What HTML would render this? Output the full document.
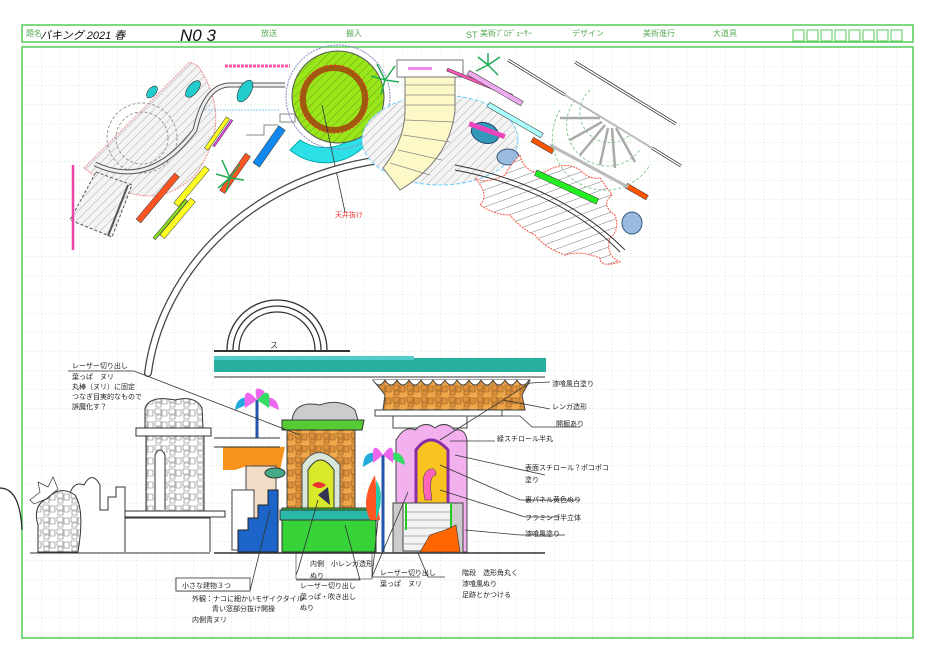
<!DOCTYPE html>
<html><head><meta charset="utf-8"><style>
html,body{margin:0;padding:0;background:#fff;}
svg{display:block;}
text{font-family:"Liberation Sans","Noto Sans CJK JP",sans-serif;}
</style></head><body>
<svg width="930" height="658" viewBox="0 0 930 658" xmlns="http://www.w3.org/2000/svg">
<defs>
<pattern id="grid" x="22" y="47" width="19" height="19" patternUnits="userSpaceOnUse">
<path d="M0 0V19M0 0H19" stroke="#cfeccc" stroke-width="1" stroke-dasharray="2 2" fill="none"/>
</pattern>
<pattern id="hatch" width="6" height="6" patternUnits="userSpaceOnUse" patternTransform="rotate(45)">
<rect width="6" height="6" fill="#f4f4f4"/><line x1="0" y1="0" x2="0" y2="6" stroke="#aaa" stroke-width="1"/>
</pattern>
<pattern id="hatchG" width="6" height="6" patternUnits="userSpaceOnUse" patternTransform="rotate(45)">
<rect width="6" height="6" fill="#99e61a"/><line x1="0" y1="0" x2="0" y2="6" stroke="#6aa010" stroke-width="1"/>
</pattern>
<pattern id="hatchW" width="8" height="8" patternUnits="userSpaceOnUse" patternTransform="rotate(-20)">
<rect width="8" height="8" fill="#fff"/><line x1="0" y1="0" x2="8" y2="0" stroke="#777" stroke-width="1"/>
</pattern>
<pattern id="stone" width="14" height="12" patternUnits="userSpaceOnUse">
<rect width="14" height="12" fill="#f0a84a"/><path d="M1 1h6v5h-6zM8 2h5v6h-5zM2 7h5v4h-5z" fill="#e0923a" stroke="#8a5520" stroke-width="0.6"/>
</pattern>
<pattern id="stoneG" width="14" height="12" patternUnits="userSpaceOnUse">
<rect width="14" height="12" fill="#fff"/><path d="M1 1h6v5h-6zM8 2h5v6h-5zM2 7h5v4h-5z" fill="none" stroke="#777" stroke-width="0.6"/>
</pattern>
</defs>

<!-- header -->
<rect x="22" y="25" width="891" height="17" fill="#fff" stroke="#5c5" stroke-width="1.5"/>
<g font-size="8" fill="#5a5">
<text x="26" y="36">題名</text>
<text x="261" y="36">放送</text>
<text x="346" y="36">搬入</text>
<text x="466" y="38" font-size="9">ST</text>
<text x="480" y="36">美術ﾌﾟﾛﾃﾞｭｰｻｰ</text>
<text x="572" y="36">デザイン</text>
<text x="643" y="36">美術進行</text>
<text x="713" y="36">大道具</text>
</g>
<g fill="none" stroke="#5c5" stroke-width="1">
<rect x="793" y="30" width="11" height="11"/><rect x="807" y="30" width="11" height="11"/><rect x="821" y="30" width="11" height="11"/><rect x="835" y="30" width="11" height="11"/><rect x="849" y="30" width="11" height="11"/><rect x="863" y="30" width="11" height="11"/><rect x="877" y="30" width="11" height="11"/><rect x="891" y="30" width="11" height="11"/>
</g>
<text x="40" y="39" font-size="11" fill="#111" font-style="italic">バキング 2021 春</text>
<text x="180" y="41" font-size="17" fill="#111" font-style="italic">N0 3</text>

<!-- main frame -->
<rect x="22" y="47" width="891" height="591" fill="url(#grid)" stroke="#5c5" stroke-width="1.5"/>
<path d="M0 488 Q20 488 22 530" fill="none" stroke="#222" stroke-width="1.2"/>

<!-- ===== TOP PLAN ===== -->
<path d="M84 168 L190 62 L198 66 Q235 120 195 175 Q150 220 84 168Z" fill="url(#hatch)" stroke="#e88" stroke-width="1" stroke-dasharray="2 1"/>
<path d="M96 172 L132 185 L112 237 L70 220Z" fill="url(#hatch)" stroke="#555" stroke-width="1" stroke-dasharray="3 2"/>
<line x1="128" y1="185" x2="108" y2="236" stroke="#555" stroke-width="2"/>
<circle cx="142" cy="138" r="35" fill="none" stroke="#999" stroke-dasharray="3 2"/>
<circle cx="142" cy="138" r="26" fill="none" stroke="#999" stroke-dasharray="3 2"/>
<path d="M95 164 Q150 190 195 130 Q205 85 230 85 L285 85" fill="none" stroke="#555" stroke-width="5"/>
<path d="M95 164 Q150 190 195 130 Q205 85 230 85 L285 85" fill="none" stroke="#eee" stroke-width="3"/>
<line x1="205" y1="110" x2="280" y2="110" stroke="#8cf" stroke-dasharray="2 1"/>
<line x1="73" y1="165" x2="73" y2="250" stroke="#e4a" stroke-width="2.5"/>
<g fill="#2cc" stroke="#333" stroke-width="0.6">
<ellipse cx="152" cy="92" rx="7" ry="4" transform="rotate(-50 152 92)"/>
<ellipse cx="193" cy="89" rx="10" ry="5" transform="rotate(-50 193 89)"/>
<ellipse cx="245" cy="91" rx="12" ry="6" transform="rotate(-60 245 91)"/>
</g>
<line x1="225" y1="66" x2="290" y2="66" stroke="#f5a" stroke-width="3" stroke-dasharray="3 1"/>
<g stroke="#333" stroke-width="0.5">
<rect x="226" y="118" width="4" height="38" fill="#ff2" transform="rotate(35 228 118)"/>
<rect x="231" y="120" width="2" height="32" fill="#e4e" transform="rotate(35 232 120)"/>
<rect x="174" y="175" width="6" height="60" fill="#f52" transform="rotate(40 177 175)"/>
<rect x="185" y="200" width="3" height="50" fill="#8d2" transform="rotate(40 186 200)"/>
<rect x="204" y="168" width="6" height="48" fill="#ff2" transform="rotate(40 207 168)"/>
<rect x="190" y="200" width="6" height="48" fill="#ff2" transform="rotate(40 193 200)"/>
<rect x="245" y="155" width="6" height="45" fill="#f52" transform="rotate(35 248 155)"/>
<rect x="278" y="128" width="8" height="45" fill="#18e" transform="rotate(35 282 128)"/>
</g>
<path d="M246 135 h18 v-10 h14" fill="none" stroke="#888"/>
<rect x="280" y="114" width="15" height="8" fill="#fff" stroke="#888"/>
<path d="M370 104 L380 104 A55 55 0 0 1 290 150 L300 140 A45 45 0 0 0 370 104Z" fill="#2de0e8" stroke="#0aa"/>
<circle cx="338" cy="97" r="46" fill="url(#hatchG)" stroke="#555"/>
<circle cx="338" cy="97" r="52" fill="none" stroke="#88c" stroke-dasharray="2 1"/>
<circle cx="334" cy="99" r="31" fill="none" stroke="#a05a10" stroke-width="6"/>
<circle cx="334" cy="99" r="34" fill="none" stroke="#e33" stroke-dasharray="2 2"/>
<line x1="322" y1="105" x2="345" y2="212" stroke="#333" stroke-width="0.8"/>
<text x="335" y="217" font-size="7" fill="#e33">天井抜け</text>
<!-- big arc -->
<path d="M148 373 C160 280 240 180 380 160" fill="none" stroke="#444" stroke-width="8" stroke-linecap="round"/>
<path d="M148 373 C160 280 240 180 380 160" fill="none" stroke="#fff" stroke-width="5.5" stroke-linecap="round"/>
<g stroke="#2a5" stroke-width="1.5">
<path d="M230 178 l-8 -18 M230 178 l10 -14 M230 178 l-14 -4 M230 178 l14 2 M230 178 l-4 14 M230 178 l-12 10"/>
<path d="M385 80 l-8 -16 M385 80 l10 -14 M385 80 l-14 -4 M385 80 l14 2 M385 80 l-4 14"/>
<path d="M488 65 l-10 -8 M488 65 l12 -8 M488 65 l-12 6 M488 65 l10 10 M488 65 l0 -12"/>
<path d="M468 160 l-10 -8 M468 160 l12 -8 M468 160 l-12 6 M468 160 l10 10 M468 160 l0 -12 M468 160 l20 -2"/>
</g>
<ellipse cx="440" cy="140" rx="78" ry="45" fill="url(#hatch)" stroke="#6cf" stroke-dasharray="4 2"/>
<path d="M405 76 L455 76 L455 110 Q450 160 400 190 L383 168 Q405 140 405 110Z" fill="#fdf8c8" stroke="#777"/>
<g stroke="#888" stroke-width="0.7"><line x1="405" y1="85" x2="455" y2="85"/><line x1="405" y1="95" x2="455" y2="95"/><line x1="405" y1="105" x2="455" y2="105"/><line x1="405" y1="120" x2="454" y2="122"/><line x1="403" y1="135" x2="450" y2="142"/><line x1="398" y1="150" x2="442" y2="160"/><line x1="390" y1="163" x2="430" y2="175"/></g>
<rect x="397" y="60" width="66" height="17" fill="#fff" stroke="#777"/>
<rect x="408" y="67" width="24" height="3" fill="#e8e"/>
<g stroke="#333" stroke-width="0.5">
<rect x="446" y="70" width="3" height="70" fill="#f5b" transform="rotate(-68 447 70)"/>
<rect x="466" y="73" width="5" height="62" fill="#eae" transform="rotate(-60 468 73)"/>
<rect x="486" y="105" width="5" height="62" fill="#aff" transform="rotate(-60 488 105)"/>
<rect x="530" y="140" width="5" height="24" fill="#f50" transform="rotate(-60 532 140)"/>
<rect x="624" y="186" width="5" height="24" fill="#f50" transform="rotate(-60 626 186)"/>
</g>
<line x1="550" y1="145" x2="628" y2="187" stroke="#bbb" stroke-width="3"/>
<ellipse cx="485" cy="133" rx="14" ry="10" fill="#39b" stroke="#246" transform="rotate(20 485 133)"/>
<rect x="468" y="127" width="38" height="5" fill="#e4b" transform="rotate(20 485 130)"/>
<ellipse cx="508" cy="157" rx="11" ry="8" fill="#9bd" stroke="#357"/>
<ellipse cx="632" cy="223" rx="10" ry="11" fill="#9bd" stroke="#357"/>
<path d="M475 178 Q485 185 505 175 Q510 165 520 155 Q525 175 545 172 Q565 160 580 170 Q590 180 600 178 L612 195 Q600 205 615 215 Q620 230 610 238 Q605 255 620 262 Q600 268 600 258 Q580 250 565 255 Q545 248 535 235 Q520 228 510 215 Q495 215 480 205 Q490 195 475 178Z" fill="url(#hatchW)" stroke="#f54" stroke-dasharray="2 1"/>
<path d="M455 165 Q560 185 625 250" fill="none" stroke="#333" stroke-width="1"/>
<path d="M455 170 Q560 190 620 252" fill="none" stroke="#333" stroke-width="1"/>
<rect x="537" y="170" width="68" height="6" fill="#2e2" stroke="#333" stroke-width="0.5" transform="rotate(25 537 170)"/>
<g fill="none" stroke="#8c9" stroke-dasharray="3 2">
<path d="M560 110 A40 40 0 0 0 650 165"/><path d="M575 100 A30 30 0 0 0 640 150"/><path d="M590 90 A20 20 0 0 0 630 135"/>
</g>
<g stroke="#aaa" stroke-width="2.5"><line x1="600" y1="118" x2="560" y2="118"/><line x1="602" y1="122" x2="570" y2="140"/><line x1="605" y1="125" x2="580" y2="155"/><line x1="608" y1="128" x2="600" y2="165"/><line x1="612" y1="128" x2="615" y2="168"/><line x1="616" y1="128" x2="635" y2="162"/></g>
<g stroke="#333" stroke-width="3"><line x1="508" y1="60" x2="565" y2="95"/><line x1="575" y1="62" x2="676" y2="124"/><line x1="652" y1="148" x2="681" y2="166"/></g>
<g stroke="#fff" stroke-width="1.5"><line x1="508" y1="60" x2="565" y2="95"/><line x1="575" y1="62" x2="676" y2="124"/><line x1="652" y1="148" x2="681" y2="166"/></g>
<line x1="565" y1="95" x2="652" y2="148" stroke="#bbb" stroke-width="2"/>

<!-- ===== ELEVATION ===== -->
<g fill="none" stroke="#333" stroke-width="1.3">
<path d="M227 350 A50 50 0 0 1 327 350"/><path d="M233 350 A44 44 0 0 1 321 350"/><path d="M239 350 A38 38 0 0 1 315 350"/>
</g>
<line x1="214" y1="351" x2="350" y2="351" stroke="#333" stroke-width="2"/>
<text x="270" y="348" font-size="8" fill="#333">ス</text>
<rect x="214" y="358" width="332" height="14" fill="#27b0a0"/>
<rect x="214" y="356" width="200" height="4" fill="#5cc"/>
<line x1="214" y1="377" x2="545" y2="377" stroke="#333"/>
<path d="M373 380 L530 380 L522 395 L525 410 L383 410 L385 395Z" fill="url(#stone)" stroke="#444"/>
<path d="M373 380 q6 10 12 0 q6 10 12 0 q6 10 12 0 q6 10 12 0 q6 10 12 0 q6 10 12 0 q6 10 12 0 q6 10 12 0 q6 10 12 0 q6 10 12 0 q6 10 12 0 q6 10 12 0 q6 10 12 0" fill="#fff" stroke="#444"/>
<rect x="375" y="410" width="127" height="6" fill="#fff" stroke="#444"/>
<rect x="393" y="416" width="74" height="12" fill="#fff" stroke="#444"/>
<path d="M396 552 L396 440 Q405 425 415 430 Q425 420 435 428 Q445 420 455 430 Q465 428 467 440 L467 552Z" fill="#f2b0ee" stroke="#444"/>
<path d="M416 510 L416 450 Q430 430 448 450 L448 510Z" fill="#f9c420" stroke="#8a2ea8" stroke-width="3"/>
<path d="M425 500 q-5 -25 3 -30 q8 -4 8 5 q-8 0 -4 25z" fill="#f6b" stroke="#333" stroke-width="0.5"/>
<rect x="393" y="503" width="70" height="50" fill="#ccc" stroke="#444"/>
<rect x="403" y="503" width="48" height="48" fill="#f3f3f3" stroke="#444"/>
<g stroke="#999" stroke-width="0.7"><line x1="403" y1="512" x2="451" y2="512"/><line x1="403" y1="520" x2="451" y2="520"/><line x1="403" y1="528" x2="451" y2="528"/><line x1="403" y1="536" x2="451" y2="536"/><line x1="403" y1="544" x2="451" y2="544"/></g>
<line x1="406" y1="503" x2="406" y2="530" stroke="#2c2" stroke-width="2"/><line x1="451" y1="503" x2="451" y2="530" stroke="#2c2" stroke-width="2"/>
<path d="M420 552 L430 535 L445 530 L456 525 L460 552Z" fill="#f60" stroke="#333" stroke-width="0.6"/>
<path d="M223 447 L285 447 L280 470 L250 465 L235 470 L223 470Z" fill="#f7931e"/>
<rect x="246" y="466" width="30" height="80" fill="#f1dcc6" stroke="#444"/>
<rect x="232" y="490" width="22" height="60" fill="#fff" stroke="#444"/>
<path d="M238 552 L238 530 L248 530 L248 518 L258 518 L258 505 L268 505 L268 490 L278 490 L278 552Z" fill="#1d64c8" stroke="#222"/>
<ellipse cx="275" cy="473" rx="10" ry="5" fill="#4a8" stroke="#333"/>
<rect x="287" y="422" width="68" height="90" fill="url(#stone)" stroke="#444"/>
<path d="M282 430 L282 420 L364 420 L362 430Z" fill="#5c3" stroke="#333"/>
<path d="M292 420 Q295 400 320 405 Q340 398 355 410 L358 420Z" fill="#ccc" stroke="#444"/>
<path d="M302 512 L302 465 Q318 440 340 465 L340 512Z" fill="#d9e6d9" stroke="#555"/>
<path d="M308 512 L308 470 Q320 450 334 470 L334 512Z" fill="#d8e82a" stroke="#333"/>
<path d="M312 485 q6 -6 14 0 q-6 6 -14 0z" fill="#e33"/>
<path d="M318 495 l12 10 l-2 -18z" fill="#335"/>
<rect x="282" y="508" width="94" height="44" fill="#37d237" stroke="#333"/>
<rect x="280" y="510" width="98" height="10" fill="#2ab8a8" stroke="#333"/>
<line x1="214" y1="553" x2="545" y2="553" stroke="#333" stroke-width="1.5"/>
<g>
<line x1="257" y1="400" x2="257" y2="438" stroke="#25a" stroke-width="3"/>
<path d="M257 400 q-20 -8 -22 10 z" fill="#2ad"/><path d="M257 400 q-15 -18 -12 8 z" fill="#e6e"/>
<path d="M257 400 q20 -8 22 10 z" fill="#e6e"/><path d="M257 400 q15 -18 12 8 z" fill="#3d6"/>
<path d="M257 400 q-5 -18 8 -8 z" fill="#e6e"/>
<line x1="383" y1="455" x2="383" y2="552" stroke="#25a" stroke-width="3"/>
<path d="M383 455 q-20 -8 -20 12 z" fill="#2ad"/><path d="M383 455 q-12 -18 -10 8 z" fill="#e6e"/>
<path d="M383 455 q20 -8 22 10 z" fill="#3d6"/><path d="M383 455 q12 -18 10 8 z" fill="#e6e"/>
<path d="M370 520 q-10 -20 5 -45 q2 25 5 45z" fill="#f52"/><path d="M376 520 q10 -25 0 -40z" fill="#2ca"/>
</g>
<line x1="214" y1="438" x2="280" y2="438" stroke="#333"/>
<line x1="214" y1="447" x2="280" y2="447" stroke="#333"/>
<path d="M145 428 L145 408 Q150 395 175 400 Q195 395 202 408 L203 428Z" fill="url(#stoneG)" stroke="#333"/>
<rect x="136" y="428" width="75" height="8" fill="#fff" stroke="#333"/>
<rect x="146" y="436" width="58" height="75" fill="url(#stoneG)" stroke="#333"/>
<path d="M155 510 L155 455 Q160 445 165 455 L165 510" fill="#fff" stroke="#333"/>
<rect x="125" y="511" width="100" height="6" fill="#fff" stroke="#333"/>
<path d="M120 552 L120 518 L210 518 L210 552" fill="#fff" stroke="#333"/>
<path d="M68 552 L68 500 Q72 480 84 485 Q92 470 100 485 L100 510 L108 510 L108 497 L116 497 L116 487 L125 487 L125 552" fill="#fff" stroke="#333"/>
<path d="M38 552 L38 525 Q32 505 48 498 Q60 485 75 495 Q85 510 78 552Z" fill="url(#stoneG)" stroke="#333"/>
<path d="M30 500 l10 -8 l-2 -10 l10 5 l5 -10 l5 12 l-12 10 l-12 5z" fill="#fff" stroke="#333" stroke-width="0.7"/>
<line x1="30" y1="553" x2="210" y2="553" stroke="#333"/>

<g stroke="#333" stroke-width="0.8" fill="none">
<path d="M68 371 L134 371 L300 435"/>
<path d="M530 383 L550 382 M530 383 L440 440"/>
<path d="M503 400 L550 409"/>
<path d="M500 416 L520 416 L532 427 L580 427"/>
<path d="M450 441 L495 441"/>
<path d="M455 455 L545 475"/>
<path d="M440 465 L520 500 L580 500"/>
<path d="M440 490 L525 517 L560 517"/>
<path d="M465 530 L520 535 L565 535"/>
<path d="M176 578 L176 591 L250 591 L270 510"/>
<path d="M296 575 L298 570 L318 500"/>
<path d="M296 580 L360 580 L345 525"/>
<path d="M372 577 L420 577 M372 577 L408 492"/>
<path d="M418 553 L428 577 L445 577"/>
<path d="M372 577 L378 520"/>
</g>
<rect x="176" y="578" width="74" height="13" fill="#fff" stroke="#333" stroke-width="0.8"/>
<rect x="296" y="553" width="76" height="26" fill="none" stroke="#333" stroke-width="0.6"/>

<g font-size="7" fill="#222">
<text x="72" y="368">レーザー切り出し</text>
<text x="72" y="379">葉っぱ　ヌリ</text>
<text x="72" y="389">丸棒（ヌリ）に固定</text>
<text x="72" y="399">つなぎ目実的なもので</text>
<text x="72" y="409">誤魔化す？</text>
<text x="552" y="386">漆喰風白塗り</text>
<text x="552" y="409">レンガ造形</text>
<text x="556" y="426">開掘あり</text>
<text x="497" y="441">緑スチロール半丸</text>
<text x="525" y="470">表面スチロール？ポコポコ</text>
<text x="525" y="482">塗り</text>
<text x="525" y="502">裏パネル黄色ぬり</text>
<text x="525" y="520">フラミンゴ半立体</text>
<text x="525" y="536">漆喰風塗り</text>
<text x="182" y="588">小さな建物３つ</text>
<text x="192" y="601">外観：ナコに細かいモザイクタイル</text>
<text x="212" y="611">青い窓部分抜け開操</text>
<text x="192" y="622">内側青ヌリ</text>
<text x="310" y="566">内側　小レンガ造形</text>
<text x="310" y="578">ぬり</text>
<text x="300" y="588">レーザー切り出し</text>
<text x="300" y="599">葉っぱ・吹き出し</text>
<text x="300" y="610">ぬり</text>
<text x="380" y="575">レーザー切り出し</text>
<text x="380" y="586">葉っぱ　ヌリ</text>
<text x="462" y="575">階段　造形角丸く</text>
<text x="462" y="586">漆喰風ぬり</text>
<text x="462" y="597">足跡とかつける</text>
</g>
</svg>
</body></html>
